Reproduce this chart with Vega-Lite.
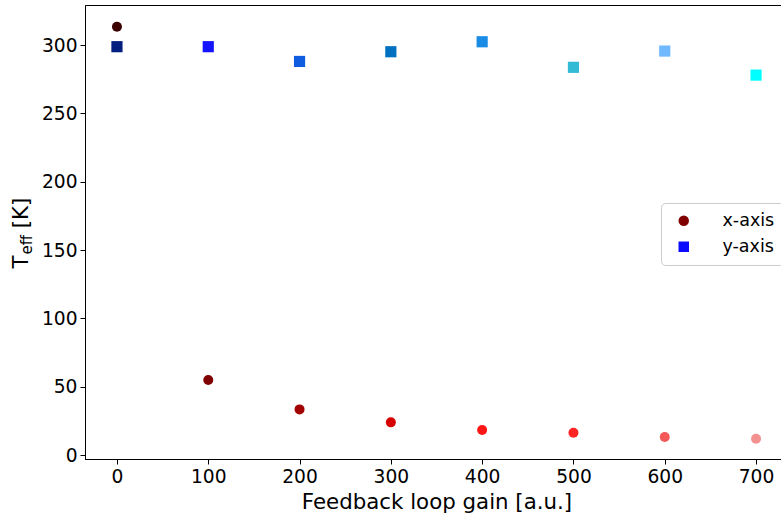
{
  "$schema": "https://vega.github.io/schema/vega-lite/v6.json",
  "width": 703,
  "height": 454,
  "autosize": {"type": "none"},
  "padding": {"left": 85, "top": 5, "right": 0, "bottom": 56},
  "background": "white",
  "config": {
    "view": {"stroke": "black", "strokeWidth": 1},
    "axis": {
      "grid": false,
      "domainColor": "black",
      "tickColor": "black",
      "labelFont": "DejaVu Sans",
      "titleFont": "DejaVu Sans",
      "labelFontSize": 18.67,
      "titleFontSize": 21.33,
      "labelColor": "black",
      "titleColor": "black",
      "titleFontWeight": "normal",
      "tickSize": 5,
      "labelPadding": 3,
      "domainWidth": 1,
      "tickWidth": 1
    },
    "legend": {
      "title": null, "orient": "none", "legendX": 576, "legendY": 198,
      "padding": 9, "strokeColor": "#cccccc", "fillColor": "rgba(255,255,255,0.8)", "cornerRadius": 4,
      "labelFontSize": 17.5, "labelFont": "DejaVu Sans", "labelColor": "black",
      "symbolSize": 110, "rowPadding": 7, "labelOffset": 30, "symbolOffset": 5, "symbolOpacity": 1, "symbolStrokeWidth": 0,
      "symbolFillColor": "#800000"
    }
  },
  "data": {
    "values": [
      {"gain": 0, "teff": 313.4, "series": "x-axis", "color": "#3d0000"},
      {"gain": 100, "teff": 54.9, "series": "x-axis", "color": "#800000"},
      {"gain": 200, "teff": 33.4, "series": "x-axis", "color": "#a30000"},
      {"gain": 300, "teff": 23.9, "series": "x-axis", "color": "#d60000"},
      {"gain": 400, "teff": 18.3, "series": "x-axis", "color": "#ff1515"},
      {"gain": 500, "teff": 16.3, "series": "x-axis", "color": "#ff2424"},
      {"gain": 600, "teff": 13.2, "series": "x-axis", "color": "#f55858"},
      {"gain": 700, "teff": 11.9, "series": "x-axis", "color": "#f59090"},
      {"gain": 0, "teff": 298.8, "series": "y-axis", "color": "#001f7f"},
      {"gain": 100, "teff": 298.8, "series": "y-axis", "color": "#1414ff"},
      {"gain": 200, "teff": 288.0, "series": "y-axis", "color": "#0f5ce0"},
      {"gain": 300, "teff": 295.1, "series": "y-axis", "color": "#0070c0"},
      {"gain": 400, "teff": 302.4, "series": "y-axis", "color": "#1a8ce6"},
      {"gain": 500, "teff": 283.7, "series": "y-axis", "color": "#33bbd6"},
      {"gain": 600, "teff": 295.6, "series": "y-axis", "color": "#70b8ff"},
      {"gain": 700, "teff": 278.0, "series": "y-axis", "color": "#00ffff"}
    ]
  },
  "layer": [
    {
      "transform": [{"filter": "datum.series === 'x-axis'"}],
      "mark": {"type": "point", "filled": true, "size": 100, "opacity": 1},
      "encoding": {
        "x": {
          "field": "gain", "type": "quantitative",
          "scale": {"domain": [-35, 735], "nice": false, "zero": false},
          "axis": {"values": [0, 100, 200, 300, 400, 500, 600, 700], "title": "Feedback loop gain [a.u.]", "titleY": 49, "titleBaseline": "alphabetic"}
        },
        "y": {
          "field": "teff", "type": "quantitative",
          "scale": {"domain": [-2.9, 329.3], "nice": false, "zero": false},
          "axis": {"orient": "left", "values": [0, 50, 100, 150, 200, 250, 300], "title": "T\u00a0\u00a0\u00a0\u00a0[K]", "titleAngle": 270, "titleAlign": "left", "titleBaseline": "alphabetic", "titleX": -58, "titleY": 263}
        },
        "color": {"field": "color", "type": "nominal", "scale": null, "legend": null},
        "shape": {
          "field": "series", "type": "nominal",
          "scale": {"domain": ["x-axis", "y-axis"], "range": ["circle", "square"]},
          "legend": {
            "title": null,
            "encode": {"symbols": {"update": {"fill": [{"test": "datum.value === 'x-axis'", "value": "#800000"}, {"value": "#0a0aff"}]}}}
          }
        }
      }
    },
    {
      "transform": [{"filter": "datum.series === 'y-axis'"}],
      "mark": {"type": "point", "filled": true, "size": 125, "opacity": 1},
      "encoding": {
        "x": {
          "field": "gain", "type": "quantitative",
          "scale": {"domain": [-35, 735], "nice": false, "zero": false},
          "axis": {"values": [0, 100, 200, 300, 400, 500, 600, 700], "title": "Feedback loop gain [a.u.]", "titleY": 49, "titleBaseline": "alphabetic"}
        },
        "y": {
          "field": "teff", "type": "quantitative",
          "scale": {"domain": [-2.9, 329.3], "nice": false, "zero": false},
          "axis": {"orient": "left", "labels": false, "ticks": false, "domain": false, "title": "eff", "titleFontSize": 15, "titleAngle": 270, "titleAlign": "left", "titleBaseline": "alphabetic", "titleX": -54, "titleY": 249}
        },
        "color": {"field": "color", "type": "nominal", "scale": null, "legend": null},
        "shape": {
          "field": "series", "type": "nominal",
          "scale": {"domain": ["x-axis", "y-axis"], "range": ["circle", "square"]},
          "legend": {
            "title": null,
            "encode": {"symbols": {"update": {"fill": [{"test": "datum.value === 'x-axis'", "value": "#800000"}, {"value": "#0a0aff"}]}}}
          }
        }
      }
    }
  ],
  "resolve": {"axis": {"y": "independent"}}
}
